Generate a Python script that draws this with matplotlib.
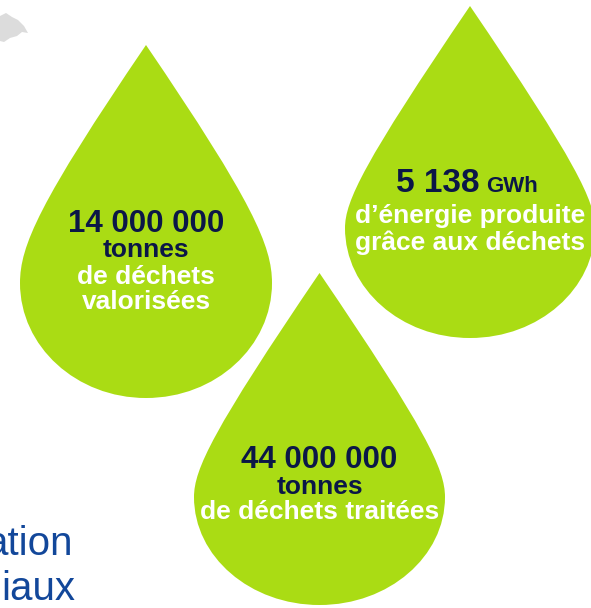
import matplotlib.pyplot as plt
from matplotlib.path import Path
from matplotlib.patches import PathPatch, Polygon

# chiffres clés
valeurs = ["14 000 000", "5 138", "44 000 000"]
unites = ["tonnes", "GWh", "tonnes"]
legendes = [["de déchets", "valorisées"],
            ["d\u2019énergie produite", "grâce aux déchets"],
            ["de déchets traitées"]]
texte_coupe = ["ation", "iaux"]

# gouttes : centre x, pointe, ligne la plus large, bas, rayon
gouttes = [(146, 45, 283, 398, 126),
           (470, 6, 228, 338, 125),
           (319.5, 273, 497, 605, 125.5)]

vert = "#aadc14"
marine = "#0b1747"
bleu = "#12479a"
police = "Liberation Sans"


def goutte(cx, tip, cy, bas, r):
    h = cy - tip
    D = r / 0.68
    a, b, k = 0.85, 0.3, 0.5523
    rb = bas - cy
    v = [(cx, tip),
         (cx - a * r, tip + a * D), (cx - r, tip + D + b * (h - D)), (cx - r, cy),
         (cx - r, cy + k * rb), (cx - k * r, bas), (cx, bas),
         (cx + k * r, bas), (cx + r, cy + k * rb), (cx + r, cy),
         (cx + r, tip + D + b * (h - D)), (cx + a * r, tip + a * D), (cx, tip),
         (cx, tip)]
    c = [Path.MOVETO] + [Path.CURVE4] * 12 + [Path.CLOSEPOLY]
    return Path(v, c)


fig = plt.figure(figsize=(5.91, 6.08), dpi=100)
ax = fig.add_axes([0, 0, 1, 1])
ax.set_xlim(0, 591)
ax.set_ylim(608, 0)
ax.axis("off")

# bout de carte grise en haut à gauche
ax.add_patch(Polygon([(0, 16), (6, 13), (12, 17), (18, 20), (24, 26), (28, 33),
                      (22, 32), (17, 36), (10, 38), (4, 42), (0, 41)], closed=True,
                     facecolor="#dcdcdc", edgecolor="none"))

for g in gouttes:
    ax.add_patch(PathPatch(goutte(*g), facecolor=vert, edgecolor="none"))

# goutte 1
ax.text(146, 232, valeurs[0], ha="center", va="baseline", fontsize=22.5,
        fontweight="bold", color=marine, family=police)
ax.text(146, 257, unites[0], ha="center", va="baseline", fontsize=19,
        fontweight="bold", color=marine, family=police)
ax.text(146, 284, legendes[0][0], ha="center", va="baseline", fontsize=19,
        fontweight="bold", color="white", family=police)
ax.text(146, 309, legendes[0][1], ha="center", va="baseline", fontsize=19,
        fontweight="bold", color="white", family=police)

# goutte 2
ax.text(480, 192, valeurs[1], ha="right", va="baseline", fontsize=24,
        fontweight="bold", color=marine, family=police)
ax.text(486, 192, unites[1], ha="left", va="baseline", fontsize=16,
        fontweight="bold", color=marine, family=police)
ax.text(470, 223, legendes[1][0], ha="center", va="baseline", fontsize=19,
        fontweight="bold", color="white", family=police)
ax.text(470, 250, legendes[1][1], ha="center", va="baseline", fontsize=19,
        fontweight="bold", color="white", family=police)

# goutte 3
ax.text(319.5, 468, valeurs[2], ha="center", va="baseline", fontsize=22.5,
        fontweight="bold", color=marine, family=police)
ax.text(319.5, 494, unites[2], ha="center", va="baseline", fontsize=19,
        fontweight="bold", color=marine, family=police)
ax.text(319.5, 519, legendes[2][0], ha="center", va="baseline", fontsize=19,
        fontweight="bold", color="white", family=police)

# texte coupé à gauche
ax.text(73, 555, texte_coupe[0], ha="right", va="baseline", fontsize=29,
        color=bleu, family=police)
ax.text(75, 600, texte_coupe[1], ha="right", va="baseline", fontsize=29,
        color=bleu, family=police)

fig.savefig("out.png", dpi=100, facecolor="white")
